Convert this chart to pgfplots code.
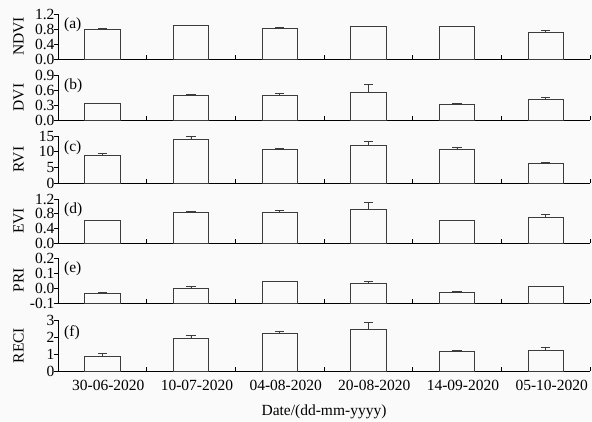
\documentclass[border=0pt]{standalone}
\usepackage{fontspec}
\setmainfont{Liberation Serif}
\usepackage{pgfplots}
\usepackage{pgfplotstable}
\pgfplotsset{compat=1.18}
\definecolor{bg}{RGB}{250,250,250}
\definecolor{barc}{RGB}{60,60,60}
\newcommand{\fs}{\fontsize{15.5}{17}\selectfont}

\pgfplotstableread{
x y e
0 0.78 0.03
1 0.89 0.00
2 0.82 0.03
3 0.86 0.00
4 0.86 0.00
5 0.72 0.03
}\ndvi
\pgfplotstableread{
x y e
0 0.34 0.00
1 0.49 0.02
2 0.49 0.05
3 0.56 0.15
4 0.32 0.02
5 0.41 0.05
}\dvi
\pgfplotstableread{
x y e
0 8.7 0.8
1 13.9 0.9
2 10.6 0.4
3 11.9 1.3
4 10.6 0.7
5 6.1 0.5
}\rvi
\pgfplotstableread{
x y e
0 0.61 0.00
1 0.83 0.04
2 0.83 0.07
3 0.93 0.19
4 0.61 0.00
5 0.71 0.06
}\evi
\pgfplotstableread{
x y e
0 -0.035 0.007
1 0.000 0.008
2 0.047 0.000
3 0.030 0.016
4 -0.028 0.008
5 0.014 0.000
}\pri
\pgfplotstableread{
x y e
0 0.86 0.17
1 1.92 0.16
2 2.22 0.13
3 2.43 0.43
4 1.17 0.06
5 1.23 0.15
}\reci

\pgfplotsset{
  panel/.style={
    scale only axis, width=532pt, anchor=north west,
    xmin=-0.5, xmax=5.5,
    ybar, bar width=0.4,
    axis x line*=bottom, axis y line*=left,
    axis line style={line width=0.8pt, black},
    xtick={0.5,1.5,2.5,3.5,4.5,5.5}, xticklabels={},
    tick align=inside, major tick length=4pt,
    ytick style={/pgfplots/tick align=outside},
    tick style={line width=0.8pt, black},
    /pgf/number format/assume math mode=true,
    tick label style={font=\fs},
    every axis y label/.style={at={(axis description cs:-0.074,0.5)}, rotate=90, anchor=center, font=\fs},
    clip=false,
  },
  barplot/.style={fill=bg, draw=barc, line width=0.8pt,
    error bars/.cd, y dir=plus, y explicit,
    error bar style={line width=0.8pt, barc},
    error mark options={rotate=90, mark size=4.5pt, line width=0.8pt, barc}},
}

\begin{document}
\begin{tikzpicture}
\fill[bg] (0,0) rectangle (592pt,-421pt);
\useasboundingbox (0,0) rectangle (592pt,-421pt);

% (a) NDVI
\begin{axis}[panel, at={(58pt,-14pt)}, height=45pt,
  ymin=0, ymax=1.2, ytick={0,0.4,0.8,1.2},
  yticklabel style={/pgf/number format/.cd, fixed, fixed zerofill, precision=1},
  ylabel={NDVI}]
\addplot[barplot] table[x=x, y=y, y error=e] {\ndvi};
\node[anchor=west, font=\fs] at (rel axis cs:0.005,0.75) {(a)};
\end{axis}

% (b) DVI
\begin{axis}[panel, at={(58pt,-75pt)}, height=45pt,
  ymin=0, ymax=0.9, ytick={0,0.3,0.6,0.9},
  yticklabel style={/pgf/number format/.cd, fixed, fixed zerofill, precision=1},
  ylabel={DVI}]
\addplot[barplot] table[x=x, y=y, y error=e] {\dvi};
\node[anchor=west, font=\fs] at (rel axis cs:0.005,0.75) {(b)};
\end{axis}

% (c) RVI
\begin{axis}[panel, at={(58pt,-136pt)}, height=47pt,
  ymin=0, ymax=15, ytick={0,5,10,15},
  ylabel={RVI}]
\addplot[barplot] table[x=x, y=y, y error=e] {\rvi};
\node[anchor=west, font=\fs] at (rel axis cs:0.005,0.75) {(c)};
\end{axis}

% (d) EVI
\begin{axis}[panel, at={(58pt,-199pt)}, height=44pt,
  ymin=0, ymax=1.2, ytick={0,0.4,0.8,1.2},
  yticklabel style={/pgf/number format/.cd, fixed, fixed zerofill, precision=1},
  ylabel={EVI}]
\addplot[barplot] table[x=x, y=y, y error=e] {\evi};
\node[anchor=west, font=\fs] at (rel axis cs:0.005,0.75) {(d)};
\end{axis}

% (e) PRI  (bars rise from the axis floor at -0.1)
\begin{axis}[panel, at={(58pt,-258pt)}, height=45pt,
  ymin=0, ymax=0.3, ytick={0,0.1,0.2,0.3},
  yticklabels={-0.1,0.0,0.1,0.2},
  ylabel={PRI}]
\addplot[y filter/.expression={y+0.1}, barplot] table[x=x, y=y, y error=e] {\pri};
\node[anchor=west, font=\fs] at (rel axis cs:0.005,0.75) {(e)};
\end{axis}

% (f) RECI
\begin{axis}[panel, at={(58pt,-320pt)}, height=51pt,
  ymin=0, ymax=3, ytick={0,1,2,3},
  ylabel={RECI},
  extra x ticks={0,1,2,3,4,5},
  extra x tick labels={30-06-2020,10-07-2020,04-08-2020,20-08-2020,14-09-2020,05-10-2020},
  extra x tick style={major tick length=0pt, tick label style={xshift=6pt, yshift=-6pt}},
  xlabel={Date/(dd-mm-yyyy)},
  every axis x label/.style={at={(axis description cs:0.5,0)}, anchor=center, yshift=-41pt, font=\fs}]
\addplot[barplot] table[x=x, y=y, y error=e] {\reci};
\node[anchor=west, font=\fs] at (rel axis cs:0.005,0.75) {(f)};
\end{axis}
\end{tikzpicture}
\end{document}
